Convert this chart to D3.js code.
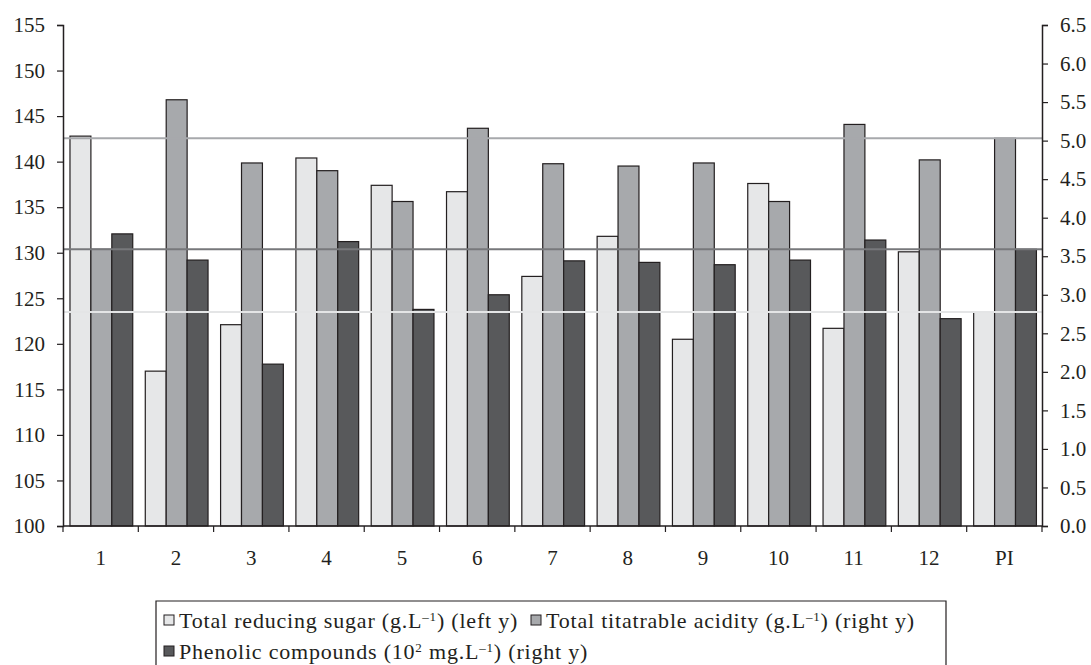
<!DOCTYPE html>
<html>
<head>
<meta charset="utf-8">
<script src="https://cdn.jsdelivr.net/npm/d3@7"></script>
<style>
  body { margin: 0; background: #fff; }
  svg text { font-family: "Liberation Serif", "DejaVu Serif", serif; fill: #231f20; }
</style>
</head>
<body>
<svg></svg>
<script>
const width = 1091;
const height = 665;

// data
const categories = ["1", "2", "3", "4", "5", "6", "7", "8", "9", "10", "11", "12", "PI"];
const sugar = [142.8, 117.0, 122.1, 140.4, 137.4, 136.7, 127.4, 131.8, 120.5, 137.6, 121.7, 130.1, 123.5];
const acidity = [3.59, 5.53, 4.71, 4.61, 4.21, 5.16, 4.70, 4.67, 4.71, 4.21, 5.21, 4.75, 5.03];
const phenolic = [3.79, 3.45, 2.10, 3.69, 2.81, 3.00, 3.44, 3.42, 3.39, 3.45, 3.71, 2.69, 3.59];
const leftTicks = d3.range(100, 156, 5);
const rightTicks = d3.range(0, 6.51, 0.5);

const seriesKeys = ["sugar", "acidity", "phenolic"];
const colors = { sugar: "#e6e7e8", acidity: "#a7a9ac", phenolic: "#58595b" };
const lineColors = { sugar: "#e4e5e6", acidity: "#a7a9ac", phenolic: "#77787b" };

const rows = categories.map((c, i) => ({
  cat: c, sugar: sugar[i], acidity: acidity[i], phenolic: phenolic[i]
}));

const svg = d3.select("svg")
  .attr("width", width)
  .attr("height", height);

const plotL = 63, plotR = 1042, plotT = 25, plotB = 526;

const x0 = d3.scaleBand()
  .domain(categories)
  .range([plotL, plotR])
  .padding(0);

const x1 = d3.scaleBand()
  .domain(seriesKeys)
  .range([0, x0.bandwidth()])
  .paddingInner(0)
  .paddingOuter(0.3);

const yL = d3.scaleLinear().domain([100, 155]).range([plotB, plotT]);
const yR = d3.scaleLinear().domain([0, 6.5]).range([plotB, plotT]);

function yFor(key) { return key === "sugar" ? yL : yR; }

// bars
const groups = svg.append("g")
  .selectAll("g")
  .data(rows)
  .enter().append("g")
  .attr("transform", d => "translate(" + (x0(d.cat) + 0.7) + ",0)");

groups.selectAll("rect")
  .data(d => seriesKeys.map(k => ({ key: k, value: d[k] })))
  .enter().append("rect")
  .attr("x", d => x1(d.key))
  .attr("width", x1.bandwidth())
  .attr("y", d => yFor(d.key)(d.value))
  .attr("height", d => plotB - yFor(d.key)(d.value))
  .attr("fill", d => colors[d.key])
  .attr("stroke", "#231f20")
  .attr("stroke-width", 1.2);

// reference lines at the PI values, drawn over the bars
const last = rows[rows.length - 1];
svg.append("g")
  .selectAll("line")
  .data(seriesKeys)
  .enter().append("line")
  .attr("x1", plotL)
  .attr("x2", plotR)
  .attr("y1", k => yFor(k)(last[k]))
  .attr("y2", k => yFor(k)(last[k]))
  .attr("stroke", k => lineColors[k])
  .attr("stroke-width", 2);

// axes
const axisL = svg.append("g")
  .attr("transform", "translate(" + plotL + ",0)")
  .call(d3.axisLeft(yL).tickValues(leftTicks).tickSize(6).tickPadding(12).tickFormat(d3.format("d")));

const axisR = svg.append("g")
  .attr("transform", "translate(" + plotR + ",0)")
  .call(d3.axisRight(yR).tickValues(rightTicks).tickSize(6).tickPadding(12).tickFormat(d3.format(".1f")));

[axisL, axisR].forEach(a => {
  a.select(".domain").attr("stroke", "#231f20").attr("stroke-width", 1.5);
  a.selectAll(".tick line").attr("stroke", "#231f20").attr("stroke-width", 1.2);
  a.selectAll(".tick text")
    .attr("font-size", 21)
    .attr("font-family", "Liberation Serif, serif")
    .attr("fill", "#231f20");
});

const axisX = svg.append("g");
axisX.append("line")
  .attr("x1", plotL).attr("x2", plotR)
  .attr("y1", plotB).attr("y2", plotB)
  .attr("stroke", "#231f20").attr("stroke-width", 1.5);

axisX.selectAll(".xt")
  .data(categories.concat(["end"]))
  .enter().append("line")
  .attr("class", "xt")
  .attr("x1", d => d === "end" ? plotR : x0(d))
  .attr("x2", d => d === "end" ? plotR : x0(d))
  .attr("y1", plotB)
  .attr("y2", plotB + 6)
  .attr("stroke", "#231f20").attr("stroke-width", 1.2);

axisX.selectAll("text")
  .data(categories)
  .enter().append("text")
  .attr("x", d => x0(d) + x0.bandwidth() / 2)
  .attr("y", 565)
  .attr("text-anchor", "middle")
  .attr("font-size", 21)
  .text(d => d);

// legend
const legend = svg.append("g");
legend.append("path")
  .attr("d", "M156,666V601H946V666")
  .attr("fill", "none")
  .attr("stroke", "#231f20")
  .attr("stroke-width", 1.2);

const legendItems = [
  { key: "sugar", x: 164, y: 628, parts: ["Total reducing sugar (g.L", "\u20131", ") (left y)"], sup: [1] },
  { key: "acidity", x: 531, y: 628, parts: ["Total titatrable acidity (g.L", "\u20131", ") (right y)"], sup: [1] },
  { key: "phenolic", x: 164, y: 659, parts: ["Phenolic compounds (10", "2", " mg.L", "\u20131", ") (right y)"], sup: [1, 3] }
];

legendItems.forEach(it => {
  legend.append("rect")
    .attr("x", it.x).attr("y", it.y - 13)
    .attr("width", 10).attr("height", 10)
    .attr("fill", colors[it.key])
    .attr("stroke", "#231f20").attr("stroke-width", 1);
  const t = legend.append("text")
    .attr("x", it.x + 15).attr("y", it.y)
    .attr("font-size", 22)
    .attr("letter-spacing", 0.8);
  it.parts.forEach((p, i) => {
    const s = t.append("tspan").text(p);
    if (it.sup.includes(i)) s.attr("font-size", 13).attr("baseline-shift", "super");
  });
});
</script>
</body>
</html>
